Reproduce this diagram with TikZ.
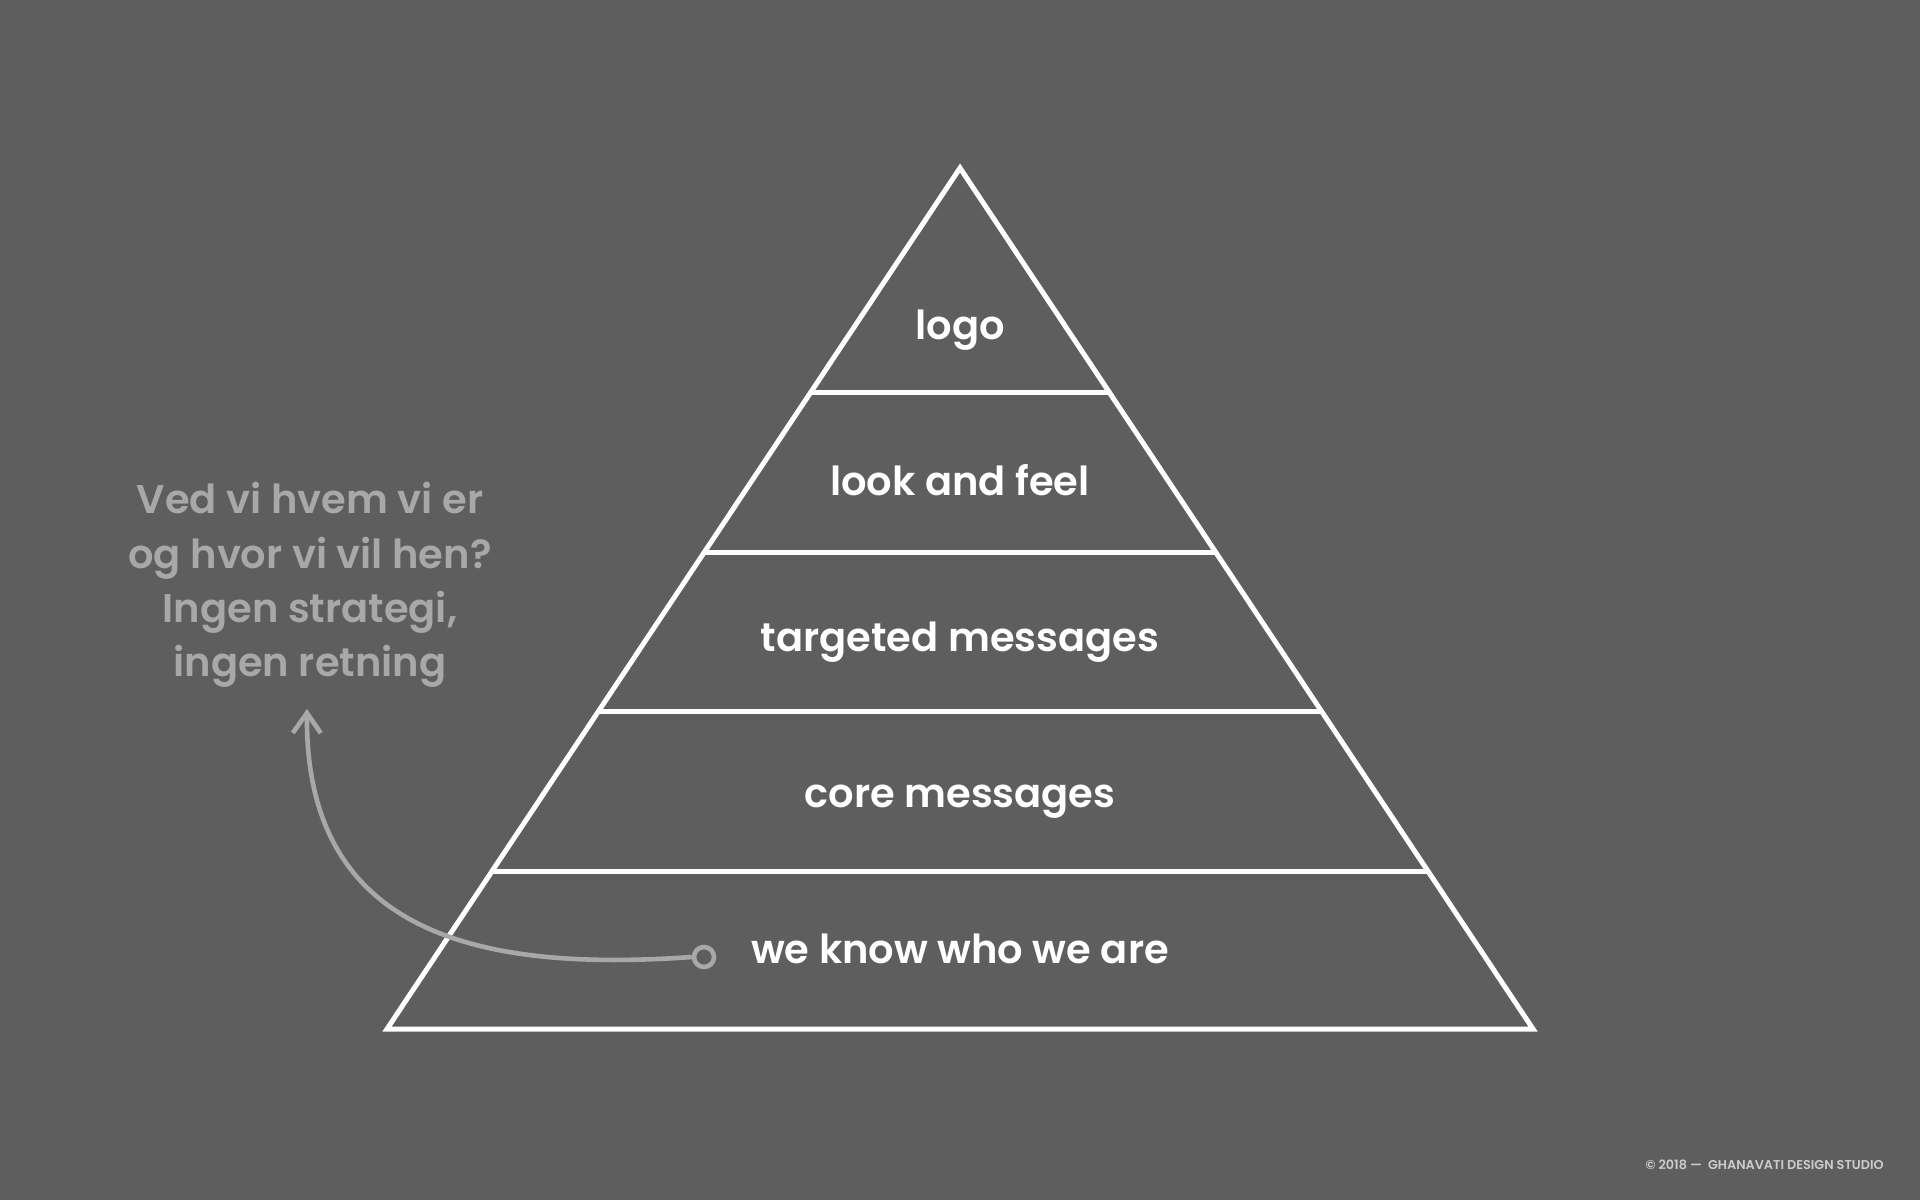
\documentclass[tikz,border=0pt]{standalone}
\usepackage{fontspec}
\setmainfont{Poppins}[BoldFont=Poppins SemiBold]
\usetikzlibrary{arrows.meta}
\definecolor{bg}{RGB}{94,94,94}
\definecolor{note}{RGB}{168,168,168}
\definecolor{foot}{RGB}{205,205,205}
\tikzset{
  level/.style={font=\bfseries\fontsize{20}{24}\selectfont, text=white, anchor=base, inner sep=0pt},
  pline/.style={draw=white, line width=2.5pt, line join=miter},
  notetext/.style={font=\bfseries\fontsize{20}{27.1}\selectfont, text=note, align=center, inner sep=0pt},
  conn/.style={draw=note, line width=2.3pt},
}
\begin{document}
\begin{tikzpicture}[x=0.5pt,y=-0.5pt]
\fill[bg] (0,0) rectangle (1920,1200);
\useasboundingbox (0,0) rectangle (1920,1200);
% pyramid
\coordinate (apex) at (960,168);
\coordinate (bl) at (387,1029);
\coordinate (br) at (1533,1029);
\draw[pline] (apex) -- (br) -- (bl) -- cycle;
\foreach \y in {392,552,711,871}{
  \pgfmathsetmacro{\hw}{(\y-168)*0.66551}
  \draw[pline] ({960-\hw},\y) -- ({960+\hw},\y);
}
\node[level] (l1) at (960,339) {logo};
\node[level] (l2) at (960,495) {look and feel};
\node[level] (l3) at (960,651.5) {targeted messages};
\node[level] (l4) at (960,807.5) {core messages};
\node[level] (l5) at (960,963.5) {we know who we are};
% note
\node[notetext] (note) at (310,585) {Ved vi hvem vi er\\og hvor vi vil hen?\\Ingen strategi,\\ingen retning};
% connector
\node[circle, draw=note, line width=2.3pt, minimum size=10pt, inner sep=0pt] (c) at (704,957) {};
\coordinate (tip) at (307,709);
\draw[conn, -{Straight Barb[length=10pt,width=14pt,line width=2.3pt]}] (c.west) .. controls (480,972) and (305,935) .. (tip);
% footer
\node[font=\bfseries\fontsize{6.4}{7}\selectfont, text=foot, anchor=east, inner sep=0pt] (foot) at (1884,1165) {© 2018 —\ \ GHANAVATI DESIGN STUDIO};
\end{tikzpicture}
\end{document}
